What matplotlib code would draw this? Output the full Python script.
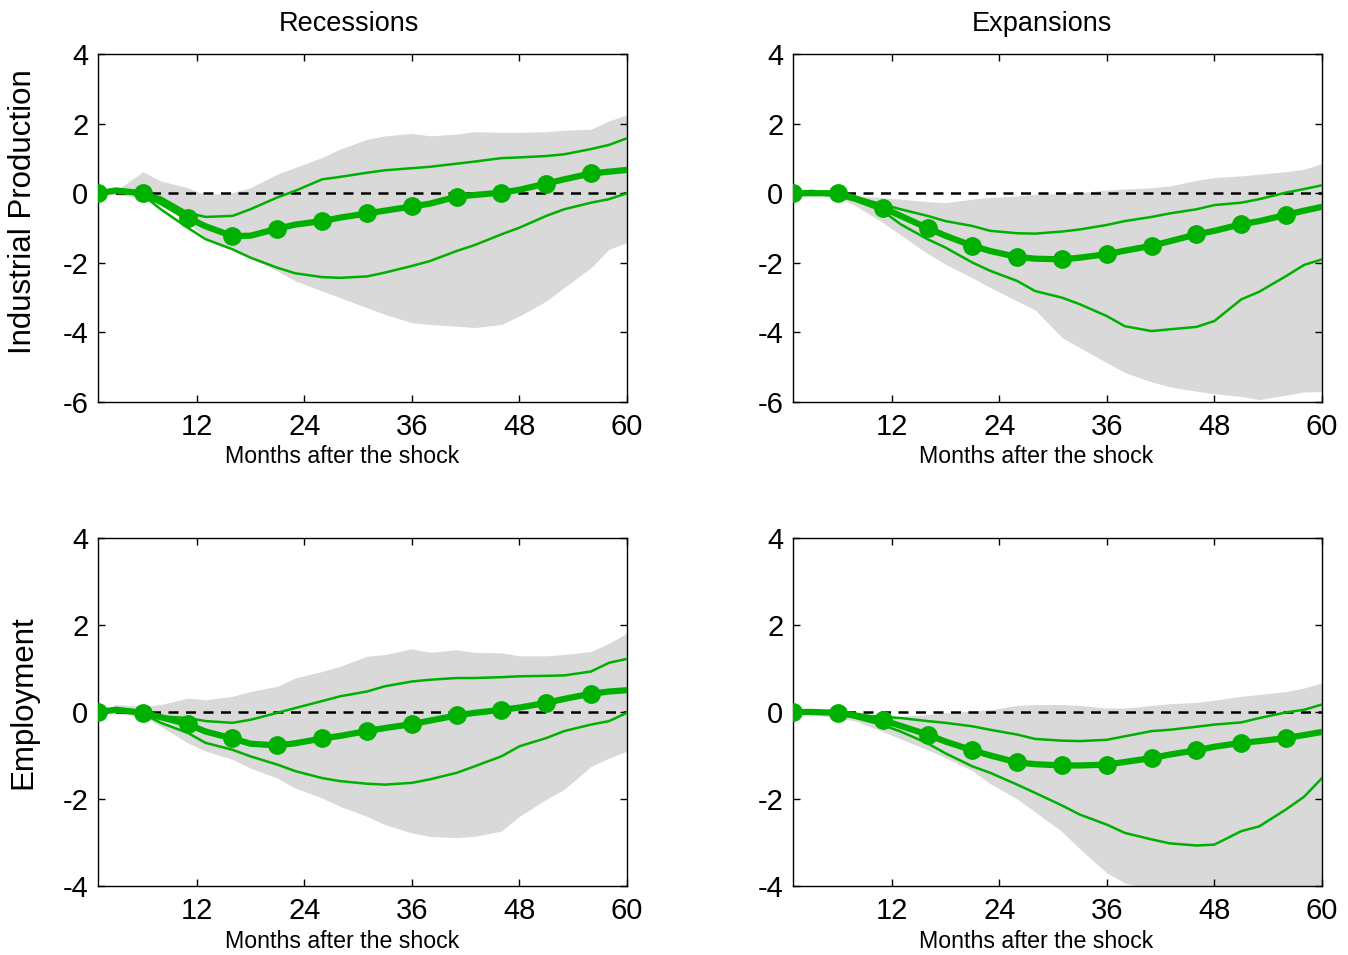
import numpy as np
import matplotlib
matplotlib.use("Agg")
import matplotlib.pyplot as plt

plt.rcParams['font.family'] = ['Liberation Sans', 'DejaVu Sans']
plt.rcParams['axes.unicode_minus'] = False

# months after the shock (markers on the median every 5 months: 1, 6, ..., 56)
months = [1, 3, 6, 8, 11, 13, 16, 18, 21, 23, 26, 28, 31, 33, 36, 38, 41, 43, 46, 48, 51, 53, 56, 58, 60]

# Industrial production, recessions
ip_rec_med = [0, 0.08, 0.0, -0.25, -0.7, -0.95, -1.23, -1.22, -1.02, -0.9, -0.8, -0.7, -0.58, -0.5, -0.38, -0.3,
              -0.1, -0.05, 0.02, 0.1, 0.28, 0.4, 0.57, 0.62, 0.67]
ip_rec_hi = [0, 0.07, 0.02, -0.12, -0.56, -0.68, -0.65, -0.46, -0.12, 0.07, 0.4, 0.47, 0.59, 0.66, 0.72, 0.76,
             0.85, 0.91, 1.01, 1.03, 1.07, 1.12, 1.27, 1.39, 1.58]
ip_rec_lo = [0, 0.04, -0.05, -0.46, -0.99, -1.32, -1.61, -1.85, -2.14, -2.3, -2.41, -2.43, -2.39, -2.28, -2.09, -1.95,
             -1.66, -1.49, -1.18, -0.99, -0.65, -0.46, -0.27, -0.17, 0.0]
ip_rec_bhi = [0, 0.07, 0.62, 0.35, 0.16, -0.05, 0.02, 0.16, 0.55, 0.74, 1.03, 1.27, 1.55, 1.65, 1.72, 1.65,
              1.7, 1.77, 1.75, 1.75, 1.77, 1.81, 1.84, 2.08, 2.25]
ip_rec_blo = [0, -0.05, -0.12, -0.32, -0.84, -1.28, -1.61, -1.85, -2.23, -2.52, -2.81, -3.0, -3.29, -3.48, -3.72, -3.77,
              -3.82, -3.86, -3.77, -3.53, -3.1, -2.71, -2.14, -1.61, -1.42]

# Industrial production, expansions
ip_exp_med = [0, 0.0, 0.0, -0.15, -0.41, -0.65, -1.0, -1.22, -1.51, -1.66, -1.83, -1.88, -1.9, -1.85, -1.75, -1.65,
              -1.51, -1.38, -1.18, -1.08, -0.89, -0.8, -0.62, -0.5, -0.39]
ip_exp_hi = [0, 0.07, -0.01, -0.12, -0.32, -0.46, -0.65, -0.8, -0.94, -1.08, -1.15, -1.16, -1.1, -1.04, -0.91, -0.8,
             -0.68, -0.58, -0.46, -0.34, -0.27, -0.17, 0.02, 0.12, 0.23]
ip_exp_lo = [0, -0.01, -0.08, -0.22, -0.51, -0.89, -1.32, -1.56, -1.99, -2.23, -2.52, -2.81, -3.0, -3.19, -3.53, -3.82,
             -3.96, -3.91, -3.84, -3.67, -3.05, -2.83, -2.38, -2.06, -1.9]
ip_exp_bhi = [0, 0.1, 0.02, -0.08, -0.12, -0.17, -0.24, -0.27, -0.17, -0.12, -0.08, -0.03, -0.01, 0.02, 0.09, 0.12,
              0.16, 0.21, 0.37, 0.45, 0.5, 0.55, 0.62, 0.69, 0.85]
ip_exp_blo = [0, -0.03, -0.12, -0.36, -0.84, -1.2, -1.73, -2.04, -2.43, -2.71, -3.1, -3.35, -4.15, -4.44, -4.87, -5.15,
              -5.42, -5.56, -5.69, -5.76, -5.84, -5.93, -5.8, -5.71, -5.7]

# Employment, recessions
em_rec_med = [0, 0.05, -0.02, -0.12, -0.28, -0.45, -0.61, -0.73, -0.77, -0.72, -0.61, -0.55, -0.44, -0.37, -0.28, -0.2,
              -0.08, -0.02, 0.05, 0.1, 0.21, 0.3, 0.42, 0.47, 0.5]
em_rec_hi = [0, 0.08, 0.02, -0.1, -0.14, -0.21, -0.25, -0.18, -0.02, 0.09, 0.25, 0.36, 0.47, 0.59, 0.7, 0.74,
             0.78, 0.78, 0.8, 0.82, 0.83, 0.84, 0.93, 1.13, 1.22]
em_rec_lo = [0, 0.05, -0.04, -0.25, -0.48, -0.71, -0.87, -1.02, -1.21, -1.36, -1.52, -1.59, -1.65, -1.67, -1.63, -1.55,
             -1.4, -1.25, -1.02, -0.79, -0.6, -0.44, -0.29, -0.21, -0.02]
em_rec_bhi = [0, 0.17, 0.13, 0.17, 0.32, 0.28, 0.36, 0.47, 0.59, 0.78, 0.93, 1.05, 1.28, 1.32, 1.45, 1.37,
              1.43, 1.37, 1.36, 1.29, 1.29, 1.32, 1.39, 1.58, 1.81]
em_rec_blo = [0, -0.04, -0.1, -0.33, -0.71, -0.9, -1.09, -1.29, -1.52, -1.75, -1.98, -2.17, -2.4, -2.59, -2.78, -2.86,
              -2.89, -2.86, -2.74, -2.4, -2.01, -1.78, -1.25, -1.06, -0.9]

# Employment, expansions
em_exp_med = [0, 0.0, -0.02, -0.08, -0.19, -0.32, -0.52, -0.68, -0.88, -1.0, -1.16, -1.2, -1.23, -1.23, -1.21, -1.15,
              -1.06, -0.98, -0.88, -0.8, -0.71, -0.67, -0.6, -0.53, -0.46]
em_exp_hi = [0, 0.02, -0.02, -0.08, -0.11, -0.14, -0.21, -0.25, -0.33, -0.41, -0.52, -0.62, -0.66, -0.67, -0.64, -0.56,
             -0.44, -0.41, -0.34, -0.29, -0.24, -0.14, -0.01, 0.05, 0.17]
em_exp_lo = [0, 0.02, -0.04, -0.14, -0.3, -0.45, -0.72, -0.95, -1.25, -1.4, -1.67, -1.86, -2.15, -2.36, -2.59, -2.78,
             -2.93, -3.02, -3.07, -3.05, -2.74, -2.63, -2.24, -1.95, -1.52]
em_exp_bhi = [0, 0.05, 0.02, -0.06, -0.14, -0.1, -0.06, -0.02, 0.02, 0.05, 0.15, 0.17, 0.17, 0.15, 0.09, 0.09,
              0.15, 0.19, 0.22, 0.27, 0.36, 0.4, 0.47, 0.55, 0.67]
em_exp_blo = [0, -0.06, -0.14, -0.21, -0.45, -0.62, -0.87, -1.05, -1.35, -1.65, -2.0, -2.3, -2.75, -3.15, -3.7, -3.93,
              -4.1, -4.3, -4.5, -4.6, -4.6, -4.6, -4.6, -4.6, -4.6]

col_titles = ["Recessions", "Expansions"]
row_labels = ["Industrial Production", "Employment"]
xticks = [12, 24, 36, 48, 60]
row_ylims = [(-6, 4), (-4, 4)]
row_yticks = [[-6, -4, -2, 0, 2, 4], [-4, -2, 0, 2, 4]]

panels = [
    [(ip_rec_med, ip_rec_hi, ip_rec_lo, ip_rec_bhi, ip_rec_blo),
     (ip_exp_med, ip_exp_hi, ip_exp_lo, ip_exp_bhi, ip_exp_blo)],
    [(em_rec_med, em_rec_hi, em_rec_lo, em_rec_bhi, em_rec_blo),
     (em_exp_med, em_exp_hi, em_exp_lo, em_exp_bhi, em_exp_blo)],
]

green = '#00b000'
band = '#d9d9d9'

fig = plt.figure(figsize=(13.48, 9.55), dpi=100)
lefts = [0.0727, 0.5883]
bottoms = [0.579, 0.0723]
w, h = 0.3924, 0.3644

for r in range(2):
    for c in range(2):
        ax = fig.add_axes([lefts[c], bottoms[r], w, h])
        med, hi, lo, bhi, blo = panels[r][c]
        ax.fill_between(months, blo, bhi, color=band, lw=0, zorder=1)
        ax.axhline(0, color='black', ls=(0, (4, 3)), lw=1.8, zorder=2)
        ax.plot(months, hi, color=green, lw=1.8, zorder=3)
        ax.plot(months, lo, color=green, lw=1.8, zorder=3)
        ax.plot(months, med, color=green, lw=4.5, marker='o', ms=12.5,
                markevery=slice(0, 24, 2), zorder=4)
        ax.set_xlim(1, 60)
        ax.set_ylim(*row_ylims[r])
        ax.set_xticks(xticks)
        ax.set_yticks(row_yticks[r])
        ax.tick_params(direction='in', top=True, right=True, length=5,
                       width=1, labelsize=21)
        ax.tick_params(axis='x', pad=8)
        ax.tick_params(axis='y', pad=7)
        for s in ax.spines.values():
            s.set_linewidth(1.0)
        xc = [342, 1036][c] / 1348
        yb = [463, 948][r]
        fig.text(xc, 1 - yb / 955, "Months after the shock", ha='center', va='baseline', fontsize=16.7)

for c in range(2):
    fig.text([349, 1042][c] / 1348, 1 - 31 / 955, col_titles[c], ha='center', va='baseline', fontsize=19.5)
fig.text(23.5 / 1348, 1 - 212 / 955, row_labels[0], rotation=90, ha='center', va='center', fontsize=22.5)
fig.text(23.5 / 1348, 1 - 702 / 955, row_labels[1], rotation=90, ha='center', va='center', fontsize=22.5)

fig.savefig("out.png", dpi=100)
